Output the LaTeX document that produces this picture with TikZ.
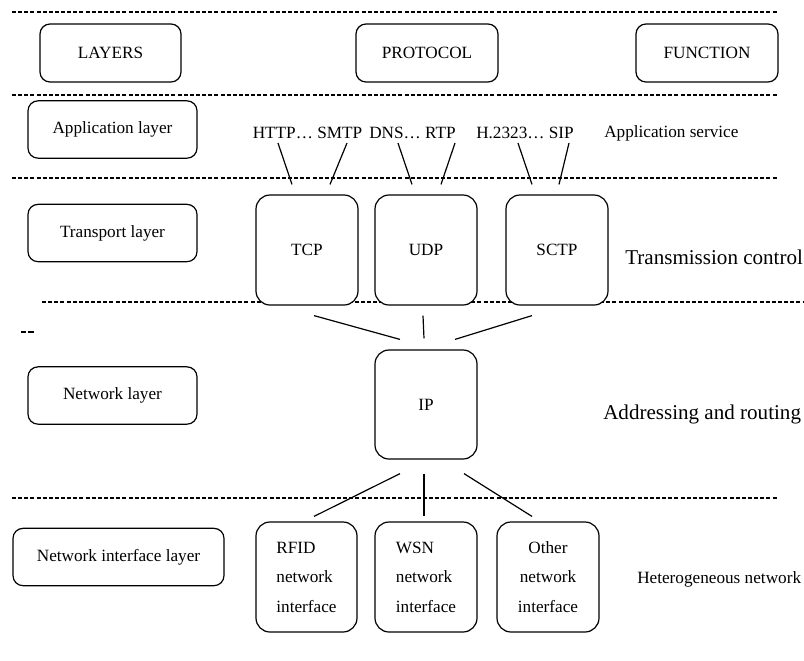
\documentclass[tikz,border=0pt]{standalone}
\usepackage{fontspec}
\setmainfont{Liberation Serif}
\newcommand\smallfnt{\fontsize{12.9}{22.1}\selectfont}
\newcommand\bigfnt{\fontsize{15.8}{19}\selectfont}
\begin{document}
\begin{tikzpicture}[x=0.75pt,y=-0.75pt,
  box/.style={draw, line width=0.9pt, rounded corners=7.5pt, inner sep=0pt, font=\smallfnt},
  wbox/.style={box, minimum width=126.75pt, minimum height=43pt},
  tbox/.style={box, rounded corners=10.5pt, minimum width=76.5pt, minimum height=82.5pt},
  sep/.style={dash pattern=on 3pt off 1.6pt, line width=0.8pt},
  conn/.style={line width=0.9pt},
  lbl/.style={inner sep=0pt, font=\smallfnt},
  blbl/.style={inner sep=0pt, font=\bigfnt, anchor=base west}]
\useasboundingbox (0,0) rectangle (804,661);
% separators
\draw[sep] (12,12) -- (778,12);
\draw[sep] (12,95) -- (778,95);
\draw[sep] (12,178) -- (778,178);
\draw[sep] (42,302) -- (803,302);
\draw[sep, dash pattern=on 4.1pt off 1.5pt] (21,332) -- (34,332);
\draw[sep] (12,498) -- (778,498);
% header
\node[box, minimum width=105.75pt, minimum height=43.5pt] (layers) at (110.5,53) {LAYERS};
\node[box, minimum width=106.5pt, minimum height=43.5pt] (protocol) at (427,53) {PROTOCOL};
\node[box, minimum width=106.5pt, minimum height=43.5pt] (function) at (707,53) {FUNCTION};
% layer boxes
\node[wbox] (app) at (112.5,129.5) {Application layer};
\node[wbox] (trans) at (112.5,233) {Transport layer};
\node[wbox] (net) at (112.5,395.5) {Network layer};
\node[wbox, minimum width=158.25pt] (nif) at (118.5,557) {Network interface layer};
% application protocols
\node[lbl] (http) at (307.5,133) {HTTP… SMTP};
\node[lbl] (dns) at (412.5,133) {DNS… RTP};
\node[lbl] (h323) at (525,133) {H.2323… SIP};
\node[lbl, anchor=west] (appserv) at (604,133) {Application service};
% transport
\node[tbox, fill=white] (tcp) at (307,250) {TCP};
\node[tbox, fill=white] (udp) at (426,250) {UDP};
\node[tbox, fill=white] (sctp) at (557,250) {SCTP};
\node[blbl] (transctl) at (625,264) {Transmission control};
% network
\node[tbox, minimum height=81.75pt] (ip) at (426,404.5) {IP};
\node[blbl] (addr) at (603,419) {Addressing and routing};
% interfaces
\node[tbox, align=left, minimum width=75.75pt] (rfid) at (306.5,577) {RFID\\network\\interface};
\node[tbox, align=left] (wsn) at (426,577) {WSN\\network\\interface};
\node[tbox, align=center] (other) at (548,577) {Other\\network\\interface};
\node[lbl, anchor=west] (hetero) at (637,579) {Heterogeneous network};
% connectors application -> transport
\draw[conn] ([shift={(-29.5,10)}]http.center) -- ([shift={(-15,-10)}]tcp.north);
\draw[conn] ([shift={(39.5,10)}]http.center) -- ([shift={(23,-10)}]tcp.north);
\draw[conn] ([shift={(-14.5,10)}]dns.center) -- ([shift={(-14,-10)}]udp.north);
\draw[conn] ([shift={(42.5,10)}]dns.center) -- ([shift={(15,-10)}]udp.north);
\draw[conn] ([shift={(-7,10)}]h323.center) -- ([shift={(-25,-10)}]sctp.north);
\draw[conn] ([shift={(44,10)}]h323.center) -- ([shift={(2,-10)}]sctp.north);
% transport -> IP
\draw[conn] ([shift={(7,10)}]tcp.south) -- ([shift={(-26,-10)}]ip.north);
\draw[conn] ([shift={(-3,10)}]udp.south) -- ([shift={(-2,-11)}]ip.north);
\draw[conn] ([shift={(-25,10)}]sctp.south) -- ([shift={(29,-10)}]ip.north);
% IP -> interfaces
\draw[conn] ([shift={(-26,14)}]ip.south) -- ([shift={(7.5,-5)}]rfid.north);
\draw[conn] ([shift={(-2,14)}]ip.south) -- ([shift={(-2,-5)}]wsn.north);
\draw[conn] ([shift={(38,14)}]ip.south) -- ([shift={(-16,-5)}]other.north);
\end{tikzpicture}
\end{document}
